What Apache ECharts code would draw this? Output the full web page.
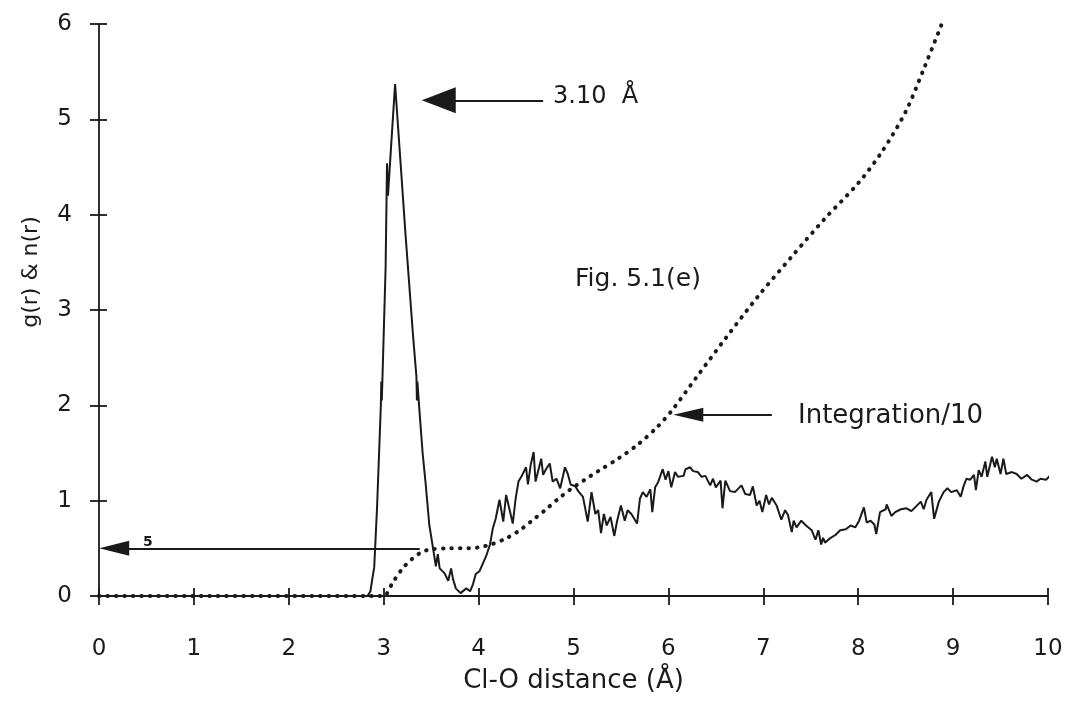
<!DOCTYPE html>
<html>
<head>
<meta charset="utf-8">
<script src="https://cdn.jsdelivr.net/npm/echarts@6/dist/echarts.min.js"></script>
<style>
  html, body { margin: 0; padding: 0; background: #fff; }
  #chart { width: 1070px; height: 701px; }
</style>
</head>
<body>
<div id="chart"></div>
<script>
// g(r) (x in Å)
const rGr = [0, 2.83, 2.86, 2.88, 2.9, 2.93, 2.97, 2.975, 2.98, 3.02, 3.035, 3.045, 3.08, 3.12, 3.14, 3.18, 3.23, 3.31, 3.345, 3.35, 3.355, 3.38, 3.41, 3.44, 3.48, 3.52, 3.55, 3.57, 3.59, 3.64, 3.68, 3.71, 3.73, 3.76, 3.81, 3.87, 3.91, 3.94, 3.97, 4.01, 4.04, 4.08, 4.12, 4.15, 4.18, 4.22, 4.26, 4.29, 4.33, 4.36, 4.39, 4.42, 4.45, 4.5, 4.52, 4.55, 4.58, 4.6, 4.66, 4.68, 4.71, 4.75, 4.78, 4.82, 4.86, 4.91, 4.94, 4.97, 5.02, 5.05, 5.1, 5.15, 5.19, 5.23, 5.26, 5.29, 5.32, 5.35, 5.39, 5.43, 5.46, 5.5, 5.54, 5.57, 5.61, 5.67, 5.7, 5.73, 5.77, 5.81, 5.83, 5.86, 5.89, 5.94, 5.97, 6.0, 6.03, 6.07, 6.1, 6.16, 6.18, 6.23, 6.26, 6.31, 6.35, 6.39, 6.44, 6.47, 6.5, 6.55, 6.57, 6.6, 6.65, 6.7, 6.77, 6.81, 6.86, 6.89, 6.93, 6.96, 6.99, 7.03, 7.06, 7.09, 7.14, 7.19, 7.23, 7.26, 7.3, 7.32, 7.35, 7.4, 7.45, 7.51, 7.55, 7.58, 7.61, 7.63, 7.65, 7.71, 7.76, 7.81, 7.87, 7.92, 7.97, 8.01, 8.06, 8.09, 8.13, 8.17, 8.19, 8.23, 8.29, 8.3, 8.35, 8.39, 8.45, 8.51, 8.56, 8.61, 8.66, 8.69, 8.72, 8.77, 8.8, 8.85, 8.9, 8.94, 8.98, 9.04, 9.08, 9.11, 9.14, 9.18, 9.22, 9.24, 9.27, 9.3, 9.34, 9.36, 9.41, 9.44, 9.46, 9.5, 9.53, 9.56, 9.62, 9.67, 9.72, 9.78, 9.83, 9.88, 9.92, 9.98, 10.03, 10.06]
const gR = [0, 0, 0.05, 0.18, 0.3, 0.93, 2.0, 2.25, 2.05, 3.44, 4.54, 4.2, 4.75, 5.37, 5.35, 4.51, 3.79, 2.72, 2.3, 2.05, 2.25, 1.9, 1.5, 1.2, 0.75, 0.5, 0.31, 0.44, 0.29, 0.24, 0.16, 0.29, 0.18, 0.08, 0.03, 0.08, 0.05, 0.12, 0.23, 0.26, 0.33, 0.42, 0.54, 0.71, 0.81, 1.01, 0.78, 1.06, 0.89, 0.76, 1.02, 1.2, 1.25, 1.35, 1.17, 1.38, 1.51, 1.2, 1.44, 1.27, 1.33, 1.39, 1.2, 1.23, 1.13, 1.35, 1.28, 1.17, 1.15, 1.1, 1.04, 0.78, 1.09, 0.86, 0.9, 0.66, 0.86, 0.74, 0.83, 0.63, 0.79, 0.95, 0.79, 0.9, 0.86, 0.76, 1.02, 1.09, 1.04, 1.12, 0.88, 1.14, 1.19, 1.33, 1.22, 1.31, 1.14, 1.3, 1.25, 1.26, 1.33, 1.35, 1.31, 1.3, 1.25, 1.26, 1.16, 1.23, 1.14, 1.21, 0.92, 1.21, 1.1, 1.09, 1.16, 1.07, 1.06, 1.15, 0.95, 1.0, 0.88, 1.06, 0.96, 1.03, 0.95, 0.8, 0.9, 0.85, 0.67, 0.79, 0.72, 0.79, 0.74, 0.69, 0.59, 0.69, 0.54, 0.61, 0.56, 0.61, 0.64, 0.69, 0.7, 0.74, 0.72, 0.79, 0.93, 0.77, 0.79, 0.75, 0.65, 0.88, 0.91, 0.96, 0.84, 0.88, 0.91, 0.92, 0.89, 0.94, 0.99, 0.91, 1.01, 1.09, 0.81, 0.99, 1.09, 1.13, 1.09, 1.11, 1.04, 1.15, 1.23, 1.22, 1.27, 1.11, 1.32, 1.25, 1.41, 1.25, 1.46, 1.35, 1.44, 1.28, 1.44, 1.28, 1.3, 1.28, 1.23, 1.27, 1.22, 1.2, 1.23, 1.22, 1.27, 1.22]

// running integration n(r)/10
const rInt = [0, 2.9, 3.0, 3.1, 3.2, 3.3, 3.4, 3.5, 3.7, 3.9, 4.0, 4.13, 4.28, 4.42, 4.55, 4.7, 4.84, 4.97, 5.12, 5.26, 5.47, 5.68, 5.88, 6.04, 6.3, 6.6, 6.95, 7.3, 7.65, 8.0, 8.25, 8.5, 8.7, 8.9]
const nInt = [0, 0, 0, 0.15, 0.29, 0.39, 0.46, 0.49, 0.5, 0.5, 0.51, 0.54, 0.6, 0.68, 0.78, 0.9, 1.02, 1.12, 1.22, 1.31, 1.44, 1.59, 1.77, 1.95, 2.3, 2.7, 3.15, 3.56, 3.96, 4.33, 4.66, 5.08, 5.55, 6.05]

const xRange = [0, 10]
const yRange = [0, 6]

// arrows: [tail, head] in data units
const peakArrow = [[4.68, 5.2], [3.58, 5.2]]
const coordArrow = [[3.38, 0.5], [0.16, 0.5]]
const intArrow = [[7.09, 1.9], [6.21, 1.9]]

const FONT = 'DejaVu Sans'
const INK = '#1a1a1a'

const chart = echarts.init(document.getElementById('chart'))

const zip = (xs, ys) => xs.map((x, i) => [x, ys[i]])

const arrow = (pts, w, h) => [
  { coord: pts[0] },
  { coord: pts[1], symbol: 'triangle', symbolSize: [w, h] }
]

const grid = { left: 99, top: 24, width: 949, height: 572 }

chart.setOption({
  backgroundColor: '#fff',
  animation: false,
  grid: grid,
  xAxis: [
    {
      type: 'value',
      min: xRange[0],
      max: xRange[1],
      interval: 1,
      name: 'Cl-O distance (Å)',
      nameLocation: 'middle',
      nameGap: 72,
      nameTextStyle: { fontFamily: FONT, fontSize: 26, color: INK },
      axisLine: { onZero: false, lineStyle: { color: INK, width: 1.8 } },
      axisTick: { length: 9, lineStyle: { color: INK, width: 1.8 } },
      axisLabel: { margin: 42, fontFamily: FONT, fontSize: 23, color: INK },
      splitLine: { show: false }
    },
    {
      // second copy only for the tick halves that point into the plot
      type: 'value',
      position: 'top',
      offset: -grid.height,
      min: xRange[0],
      max: xRange[1],
      interval: 1,
      axisLine: { show: false, onZero: false },
      axisTick: { length: 8, lineStyle: { color: INK, width: 1.8 } },
      axisLabel: { show: false },
      splitLine: { show: false }
    }
  ],
  yAxis: [
    {
      type: 'value',
      min: yRange[0],
      max: yRange[1],
      interval: 1,
      axisLine: { onZero: false, lineStyle: { color: INK, width: 1.8 } },
      axisTick: { length: 9, lineStyle: { color: INK, width: 1.8 } },
      axisLabel: { margin: 27, fontFamily: FONT, fontSize: 23, color: INK },
      splitLine: { show: false }
    },
    {
      type: 'value',
      position: 'right',
      offset: -grid.width,
      min: yRange[0],
      max: yRange[1],
      interval: 1,
      axisLine: { show: false, onZero: false },
      axisTick: { length: 8, lineStyle: { color: INK, width: 1.8 } },
      axisLabel: { show: false },
      splitLine: { show: false }
    }
  ],
  series: [
    {
      name: 'n(r)/10',
      type: 'line',
      data: zip(rInt, nInt),
      smooth: 0.3,
      showSymbol: false,
      clip: false,
      lineStyle: { color: INK, width: 4, type: [0.5, 8], cap: 'round' }
    },
    {
      name: 'g(r)',
      type: 'line',
      data: zip(rGr, gR),
      showSymbol: false,
      clip: false,
      lineStyle: { color: INK, width: 2 },
      markLine: {
        silent: true,
        symbol: ['none', 'triangle'],
        label: { show: false },
        lineStyle: { color: INK, width: 1.8, type: 'solid' },
        emphasis: { disabled: true },
        data: [
          arrow(peakArrow, 26, 34),
          arrow(coordArrow, 15, 30),
          arrow(intArrow, 14, 30)
        ]
      }
    }
  ],
  graphic: [
    { type: 'text', x: 31, y: 272, rotation: Math.PI / 2, style: { text: 'g(r) & n(r)', fontFamily: FONT, fontSize: 22, fill: INK, align: 'center', verticalAlign: 'middle' } },
    { type: 'text', left: 553, top: 85, style: { text: '3.10  Å', fontFamily: FONT, fontSize: 24, fill: INK } },
    { type: 'text', left: 575, top: 267, style: { text: 'Fig. 5.1(e)', fontFamily: FONT, fontSize: 25, fill: INK } },
    { type: 'text', left: 798, top: 403, style: { text: 'Integration/10', fontFamily: FONT, fontSize: 26, fill: INK } },
    { type: 'text', left: 143, top: 535, style: { text: '5', fontFamily: FONT, fontSize: 14, fontWeight: 'bold', fill: INK } }
  ]
})
</script>
</body>
</html>
